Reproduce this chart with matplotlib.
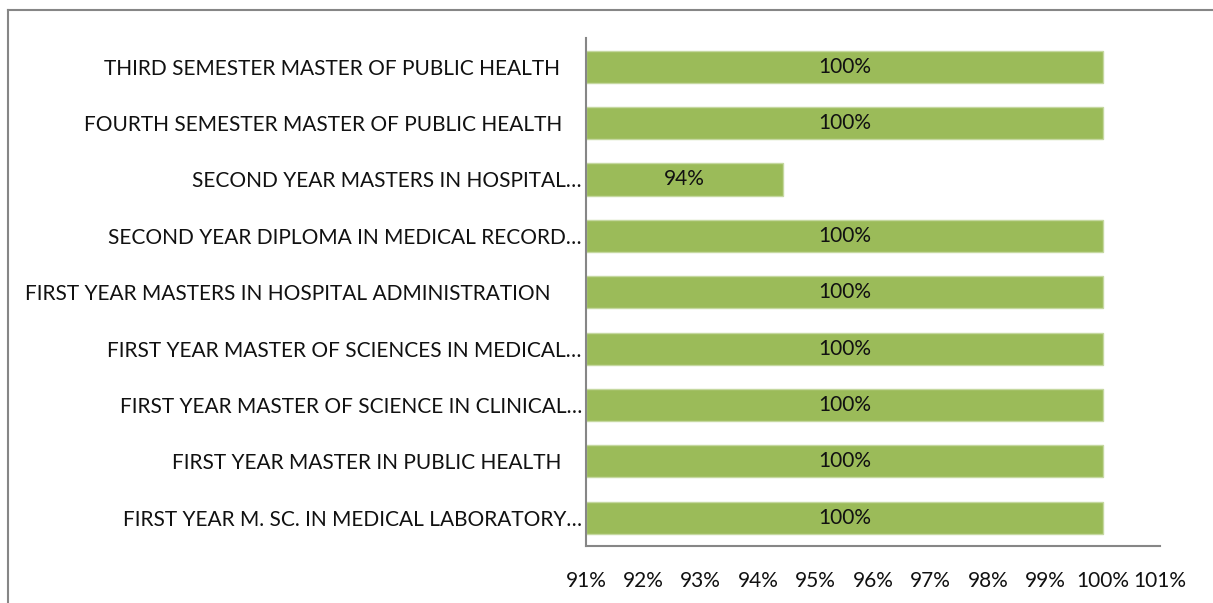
import matplotlib
matplotlib.use("Agg")
import matplotlib.pyplot as plt
from matplotlib.lines import Line2D
from matplotlib.transforms import ScaledTranslation

# categories listed top to bottom as they appear in the chart
programmes = [
    "THIRD SEMESTER MASTER OF PUBLIC HEALTH",
    "FOURTH SEMESTER MASTER OF PUBLIC HEALTH",
    "SECOND YEAR MASTERS IN HOSPITAL…",
    "SECOND YEAR DIPLOMA IN MEDICAL RECORD…",
    "FIRST YEAR MASTERS IN HOSPITAL ADMINISTRATION",
    "FIRST YEAR MASTER OF SCIENCES IN MEDICAL…",
    "FIRST YEAR MASTER OF SCIENCE IN CLINICAL…",
    "FIRST YEAR MASTER IN PUBLIC HEALTH",
    "FIRST YEAR M. SC. IN MEDICAL LABORATORY…",
]
percent = [100, 100, 94.44, 100, 100, 100, 100, 100, 100]
bar_labels = ["100%", "100%", "94%", "100%", "100%", "100%", "100%", "100%", "100%"]
x_ticks = list(range(91, 102))
x_ticklabels = [f"{t}%" for t in x_ticks]

# extra right-hand gap (px) after some labels (trailing blanks in the source)
label_gap = [22, 20, 0, 0, 31, 0, 0, 20, 0]

BAR = "#9BBB59"
EDGE = "#C5D8A0"
AXIS = "#868686"
INK = "#111111"

plt.rcParams["font.family"] = ["Lato", "DejaVu Sans"]

fig = plt.figure(figsize=(12.13, 6.03), dpi=100)
ax = fig.add_axes([0.4831, 0.0945, 0.4732, 0.8417])

xmin = x_ticks[0]
ypos = list(range(len(programmes)))[::-1]
widths = [p - xmin for p in percent]
ax.barh(ypos, widths, left=xmin, height=0.57, color=BAR, edgecolor=EDGE, lw=1.0)

for y, p, lab in zip(ypos, percent, bar_labels):
    ax.text((xmin + p) / 2, y, lab, ha="center", va="center", fontsize=15, color=INK)

ax.set_xlim(x_ticks[0], x_ticks[-1])
ax.set_ylim(-0.5, len(programmes) - 0.5)
ax.set_xticks(x_ticks)
ax.set_xticklabels(x_ticklabels, fontsize=15, color=INK)
ax.set_yticks(ypos)
ax.set_yticklabels(programmes, fontsize=15, color=INK)
ax.tick_params(axis="both", length=0)
ax.tick_params(axis="x", pad=18)
ax.tick_params(axis="y", pad=3)

for lbl, gap in zip(ax.get_yticklabels(), label_gap):
    lbl.set_transform(lbl.get_transform() + ScaledTranslation(-gap / 100, 0, fig.dpi_scale_trans))

for side in ("top", "right"):
    ax.spines[side].set_visible(False)
for side in ("left", "bottom"):
    ax.spines[side].set_color(AXIS)
    ax.spines[side].set_linewidth(1.5)

# outer chart-area border (only top and left visible within the crop)
fx0, fy0 = 8 / 1213, 1 - 10 / 603
fig.add_artist(Line2D([fx0, 1.0], [fy0, fy0], color=AXIS, lw=1.5, transform=fig.transFigure))
fig.add_artist(Line2D([fx0, fx0], [fy0, 0.0], color=AXIS, lw=1.5, transform=fig.transFigure))

fig.savefig("out.png", dpi=100)
